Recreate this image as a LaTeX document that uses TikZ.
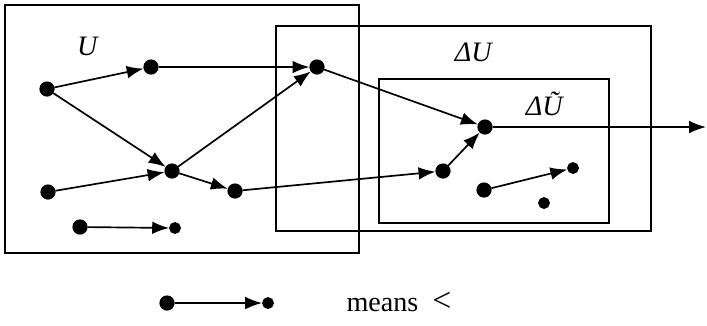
\documentclass[tikz,border=0pt]{standalone}
\usepackage{fontspec}
\setmainfont{Liberation Serif}
\usepackage{tikz}
\usetikzlibrary{arrows.meta, positioning}
\tikzset{
  bigdot/.style={circle, fill=black, draw=black, minimum size=5pt, inner sep=0pt},
  smalldot/.style={circle, fill=black, draw=black, minimum size=3.8pt, inner sep=0pt},
  arrow/.style={-{Latex[length=6pt, width=4.5pt]}, line width=0.6pt, color=black},
  setbox/.style={draw=black, line width=0.7pt},
  setlabel/.style={font=\normalsize}
}

\begin{document}
\begin{tikzpicture}[x=0.0125cm, y=-0.0125cm]
  \useasboundingbox (0,0) rectangle (707,325);

  % Sets
  \draw[setbox] (5,5) rectangle (359,253);
  \draw[setbox] (276,26) rectangle (651,231);
  \draw[setbox] (379,79) rectangle (609,223);
  \node[setlabel] (lU) at (88,46) {\textit{U}};
  \node[setlabel] (ldU) at (474,52) {\textit{ΔU}};
  \node[setlabel] (ldUt) at (545,104) {\textit{ΔŨ}};

  % Elements
  \node[bigdot] (a) at (47,89) {};
  \node[bigdot] (b) at (151,67) {};
  \node[bigdot] (c) at (317,67) {};
  \node[bigdot] (d) at (48,192) {};
  \node[bigdot] (e) at (172,171) {};
  \node[bigdot] (f) at (235,191) {};
  \node[bigdot] (g) at (443,171) {};
  \node[bigdot] (h) at (485,127) {};
  \coordinate (out) at (706,127);
  \node[smalldot] (i) at (573,168) {};
  \node[bigdot] (j) at (484,190) {};
  \node[smalldot] (k) at (544,203) {};

  \draw[arrow] (a) -- (b);
  \draw[arrow] (a) -- (e);
  \draw[arrow] (d) -- (e);
  \draw[arrow] (b) -- (c);
  \draw[arrow] (e) -- (c);
  \draw[arrow] (e) -- (f);
  \draw[arrow] (c) -- (h);
  \draw[arrow] (f) -- (g);
  \draw[arrow] (g) -- (h);
  \draw[arrow] (h) -- (out);
  \draw[arrow] (j) -- (i);

  % Legend inside U
  \node[bigdot] (u1) at (80,227) {};
  \node[smalldot] (u2) at (175,228) {};
  \draw[arrow] (u1) -- (u2);

  % Legend below
  \node[bigdot] (l1) at (167,303) {};
  \node[smalldot] (l2) at (268,303) {};
  \draw[arrow] (l1) -- (l2);
  \node[anchor=west, inner sep=0pt] (means) at (346,302) {means\enspace{\large\textless}};
\end{tikzpicture}
\end{document}
